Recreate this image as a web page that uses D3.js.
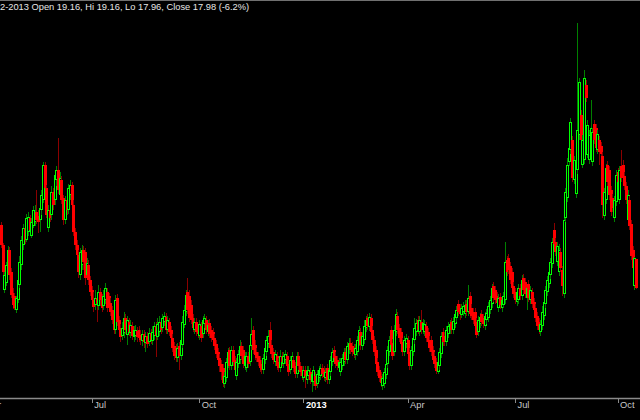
<!DOCTYPE html>
<html><head><meta charset="utf-8">
<script src="https://cdn.jsdelivr.net/npm/d3@7"></script>
<style>html,body{margin:0;padding:0;background:#000;overflow:hidden}</style>
</head><body><svg id="c" width="640" height="420"></svg>
<script>
const openP = [
20.50,19.70,17.90,18.18,18.62,19.50,18.62,17.78,17.66,17.10,
17.50,18.10,18.90,19.70,20.38,19.90,20.22,20.78,20.06,20.46,
20.62,21.02,20.86,20.70,21.10,21.50,22.90,21.98,20.38,21.10,
20.90,21.82,21.50,22.30,22.70,21.70,22.30,21.58,20.70,21.50,
21.10,21.70,22.10,21.30,20.22,19.70,19.30,18.50,18.90,19.50,
19.42,18.50,18.90,18.30,17.90,17.50,17.30,17.58,17.26,17.82,
17.58,17.26,17.50,17.82,17.66,17.38,17.10,16.70,16.30,17.58,
16.70,16.38,16.06,16.18,16.78,16.10,16.62,16.18,16.46,16.02,
16.06,16.26,16.30,16.10,15.86,16.14,15.78,16.06,15.82,16.18,
15.86,16.06,16.46,16.02,16.22,16.62,16.38,16.62,16.82,16.30,
16.62,16.30,15.98,15.66,15.58,15.18,15.66,15.26,15.70,16.50,
17.02,17.82,17.66,17.30,16.78,16.30,16.62,16.38,16.06,16.46,
16.14,16.54,16.70,16.22,16.58,16.30,16.22,15.98,15.74,15.42,
15.18,14.94,14.78,14.14,14.38,14.94,15.50,14.86,15.50,15.10,
14.46,14.94,15.10,15.66,15.50,14.86,14.78,15.26,15.02,15.66,
16.30,15.70,15.42,15.26,15.10,14.94,14.70,15.10,15.42,15.74,
16.30,15.70,15.42,15.02,15.26,15.02,14.78,15.26,14.94,15.10,
15.26,14.94,14.70,14.94,15.10,14.86,14.54,15.26,14.86,14.70,
14.38,14.70,14.30,14.46,14.62,14.22,14.22,14.46,14.14,14.38,
14.46,14.78,14.70,14.38,14.78,14.30,14.62,15.02,15.50,15.26,
15.10,14.78,14.62,14.86,15.02,15.42,15.10,15.50,15.78,15.66,
15.58,15.30,15.42,15.82,16.22,15.66,15.90,16.38,16.78,16.42,
16.78,16.30,15.90,15.50,15.02,14.70,14.46,14.06,14.14,14.50,
14.94,15.42,16.30,15.78,15.42,16.22,16.86,16.38,16.22,15.82,
15.42,15.74,15.90,15.42,14.86,15.42,15.90,16.22,16.70,16.22,
16.62,16.30,16.22,16.46,16.22,15.90,15.90,15.50,15.26,15.02,
14.62,14.86,15.34,16.22,16.06,15.82,16.14,16.30,16.62,16.30,
16.54,16.78,17.34,17.18,16.90,17.02,16.94,17.34,17.02,17.66,
17.18,17.02,17.02,16.62,16.22,16.54,16.94,16.78,16.46,16.70,
16.78,17.10,17.34,18.06,17.90,17.66,17.18,17.62,17.18,17.30,
17.50,19.10,19.18,18.86,18.62,18.06,17.82,17.42,17.50,17.98,
17.66,18.38,18.22,17.58,18.14,17.50,17.82,17.42,17.18,16.86,
16.62,16.22,16.46,16.86,17.34,17.82,18.14,18.50,18.94,20.30,
19.82,19.02,18.62,19.42,18.70,17.74,20.78,21.58,23.02,23.50,
23.90,22.30,21.74,22.70,24.10,24.90,22.90,23.10,26.10,23.30,
23.10,23.70,23.02,24.54,24.38,23.50,23.90,23.66,23.26,20.86,
21.50,22.90,22.70,21.90,21.58,20.78,21.42,22.62,21.50,22.86,
22.90,22.46,22.06,20.70,21.50,20.54,19.50,18.06,19.16];
const highP = [
20.62,19.78,18.62,19.02,19.66,19.62,18.78,17.98,17.78,17.66,
18.46,19.26,20.06,20.54,20.62,20.94,21.02,20.90,20.78,21.26,
21.30,21.90,21.10,21.50,21.90,23.02,23.02,22.10,21.30,21.50,
22.06,21.98,22.70,22.86,23.98,22.62,22.46,21.70,21.66,21.78,
22.14,22.30,22.22,21.50,20.38,19.90,19.50,19.58,19.70,19.66,
19.58,19.18,19.10,18.46,18.06,17.82,17.90,17.70,18.10,17.98,
17.74,17.90,18.18,17.98,17.78,17.58,17.26,16.86,17.70,17.74,
16.86,16.54,16.62,17.02,16.94,16.86,16.78,16.70,16.62,16.46,
16.50,16.42,16.46,16.30,16.30,16.30,16.22,16.22,16.38,16.34,
16.46,16.62,16.62,16.78,16.86,16.78,16.94,17.02,16.98,16.86,
16.78,16.46,16.14,15.82,15.74,15.78,15.82,16.10,16.86,17.30,
17.90,18.38,17.90,17.50,16.94,16.78,16.78,16.54,16.70,16.62,
16.86,16.94,16.86,16.70,16.74,16.46,16.38,16.14,15.90,15.58,
15.34,15.10,14.94,14.62,15.18,15.58,15.62,15.66,15.66,15.26,
15.18,15.50,15.90,15.82,15.66,15.42,15.42,15.42,15.90,16.78,
16.46,15.90,15.58,15.42,15.26,15.10,15.34,15.74,16.06,16.30,
16.62,15.90,15.58,15.50,15.42,15.18,15.50,15.42,15.42,15.50,
15.42,15.10,15.26,15.42,15.26,15.02,15.42,15.42,15.02,14.86,
14.86,14.86,14.86,14.86,14.78,14.70,14.86,14.62,14.70,14.86,
14.94,14.94,14.86,14.78,14.94,14.86,15.26,15.58,15.66,15.42,
15.26,15.18,15.18,15.34,15.58,15.58,15.82,15.98,15.98,15.82,
15.74,15.74,16.06,16.46,16.38,16.22,16.70,16.86,16.94,16.98,
16.94,16.46,16.06,15.66,15.18,14.86,14.62,14.54,14.78,15.10,
15.66,16.06,16.46,15.94,16.50,17.14,17.02,16.54,16.38,15.98,
16.06,16.14,16.06,15.58,15.66,16.14,16.78,16.74,16.86,16.86,
17.10,16.74,16.70,16.62,16.38,16.06,16.06,15.66,15.42,15.18,
15.18,15.58,16.22,16.38,16.22,16.46,16.62,16.70,16.78,16.82,
17.10,17.26,17.50,17.34,17.34,17.42,17.50,17.50,18.10,17.82,
17.34,17.18,17.18,16.78,16.86,16.98,17.10,16.94,17.02,17.14,
17.42,17.66,18.14,18.22,18.06,17.82,17.74,17.78,17.66,17.82,
19.82,19.26,19.34,19.02,18.78,18.22,17.98,17.98,18.14,18.14,
18.50,18.54,18.38,18.14,18.30,18.06,17.98,17.58,17.34,17.02,
16.78,16.70,17.26,17.58,18.06,18.46,18.78,19.18,19.98,20.58,
19.98,19.82,19.74,19.58,18.86,20.86,21.98,23.18,23.82,24.78,
24.06,23.26,22.94,28.58,26.38,25.10,24.10,26.70,26.30,24.70,
24.30,25.50,24.38,24.70,24.54,24.30,24.06,23.82,23.42,21.98,
22.94,23.06,22.86,22.06,21.74,21.66,22.70,22.78,22.86,23.50,
23.10,22.62,22.22,21.90,21.66,20.70,19.66,19.22,19.16];
const lowP = [
19.58,18.50,17.78,18.06,18.54,18.30,17.58,17.14,17.10,16.98,
17.38,17.98,18.70,19.50,19.74,19.82,20.06,20.10,19.98,20.38,
20.46,20.54,20.18,20.22,20.90,21.38,21.82,20.78,20.22,20.62,
20.70,21.10,21.30,22.06,21.74,21.50,21.34,20.50,20.54,20.90,
20.94,21.50,21.18,20.06,19.50,19.02,18.38,18.30,18.70,18.70,
18.10,18.30,18.10,17.66,17.34,17.02,17.10,16.62,17.10,17.26,
17.02,17.10,17.34,17.02,17.10,16.86,16.54,16.14,16.14,16.46,
16.14,15.82,15.90,15.98,16.14,15.70,16.06,15.98,15.90,15.82,
15.90,15.82,15.82,15.70,15.66,15.58,15.42,15.58,15.66,15.74,
15.70,15.90,15.22,15.90,16.06,16.14,16.22,16.46,16.14,16.14,
16.06,15.82,15.42,15.10,15.02,15.02,14.70,15.10,15.58,16.38,
16.86,16.94,16.62,16.54,16.22,16.14,16.06,15.98,15.90,15.82,
15.98,16.38,16.14,16.06,15.98,15.82,15.74,15.50,15.18,14.94,
14.62,14.30,14.02,13.98,14.22,14.78,14.70,14.70,14.86,14.54,
14.30,14.78,14.94,15.10,14.78,14.70,14.62,14.78,14.86,15.50,
15.34,15.10,15.02,14.86,14.62,14.54,14.54,14.94,15.26,15.58,
15.42,15.18,14.94,14.86,14.70,14.62,14.62,14.86,14.78,14.94,
14.70,14.46,14.54,14.78,14.62,14.38,14.38,14.70,14.46,14.30,
14.22,13.98,14.14,14.30,14.14,13.82,14.06,13.90,13.98,14.22,
14.30,14.38,14.26,14.22,14.14,14.14,14.46,14.86,15.02,14.78,
14.70,14.62,14.46,14.70,14.86,14.94,14.94,15.34,15.34,15.26,
15.18,15.10,15.26,15.66,15.50,15.50,15.74,16.22,16.30,16.26,
16.06,15.74,15.26,14.78,14.46,14.22,14.02,13.90,13.98,14.34,
14.78,15.26,15.50,15.10,15.26,16.06,16.14,15.82,15.58,15.26,
15.26,15.58,15.18,14.70,14.70,15.26,15.74,16.06,16.14,16.06,
16.14,16.14,16.06,15.82,15.66,15.42,15.26,14.94,14.78,14.54,
14.54,14.70,15.18,15.66,15.66,15.66,15.98,16.14,16.14,16.14,
16.38,16.62,16.86,16.70,16.78,16.86,16.78,16.86,16.86,16.78,
16.70,16.54,16.30,15.98,16.06,16.38,16.46,16.38,16.30,16.54,
16.62,16.94,17.18,17.42,17.34,17.22,17.02,17.14,17.02,17.18,
17.34,18.46,18.54,18.14,17.82,17.58,17.34,17.26,17.34,17.50,
17.50,17.74,17.58,17.10,17.42,17.34,17.18,16.94,16.62,16.30,
16.14,16.06,16.30,16.70,17.18,17.66,17.98,18.34,18.78,19.58,
19.26,18.86,18.46,18.62,17.66,17.58,20.62,21.42,22.86,23.34,
22.22,22.14,21.58,22.54,23.90,23.74,22.78,22.94,25.42,23.18,
22.94,23.50,22.86,23.74,23.42,23.34,22.90,23.10,20.78,20.70,
21.34,22.06,21.50,20.86,21.02,20.62,21.26,22.06,21.34,22.22,
22.22,21.90,21.34,20.54,20.30,19.10,18.62,17.90,17.96];
const closeP = [
19.70,18.62,18.50,18.90,19.50,18.50,17.70,17.30,17.18,17.58,
18.30,19.02,19.90,20.38,19.90,20.78,20.82,20.30,20.62,21.10,
21.02,20.70,20.62,21.18,21.70,22.90,21.98,20.90,21.10,20.78,
21.82,21.30,22.50,22.70,21.90,22.38,21.50,20.70,21.50,21.10,
21.98,22.10,21.30,20.22,19.70,19.30,18.62,19.42,19.50,19.02,
18.38,18.98,18.30,17.82,17.50,17.22,17.58,17.34,17.82,17.50,
17.18,17.66,17.98,17.18,17.30,17.02,16.70,16.30,17.50,16.62,
16.30,16.02,16.38,16.78,16.30,16.70,16.22,16.50,16.06,16.30,
16.30,16.02,15.98,15.90,16.14,15.82,16.06,15.74,16.18,15.90,
16.22,16.46,16.06,16.54,16.62,16.30,16.78,16.86,16.30,16.70,
16.22,15.98,15.58,15.26,15.18,15.58,15.26,15.90,16.62,17.10,
17.70,17.10,16.78,16.70,16.38,16.62,16.22,16.14,16.54,15.98,
16.70,16.78,16.30,16.50,16.14,15.98,15.90,15.66,15.34,15.10,
14.86,14.62,14.18,14.46,15.02,15.42,14.86,15.50,15.02,14.70,
15.02,15.34,15.66,15.26,14.94,15.26,15.26,14.94,15.70,16.14,
15.50,15.30,15.18,15.02,14.78,14.70,15.18,15.58,15.90,16.06,
15.58,15.34,15.10,15.34,14.86,14.78,15.26,15.02,15.26,15.34,
14.86,14.62,15.10,15.26,14.78,14.54,15.26,14.86,14.62,14.46,
14.70,14.46,14.66,14.70,14.30,14.54,14.70,14.06,14.54,14.70,
14.78,14.54,14.42,14.62,14.30,14.70,15.10,15.42,15.18,14.94,
14.86,15.02,15.02,15.18,15.42,15.10,15.66,15.78,15.50,15.42,
15.34,15.58,15.90,16.30,15.70,16.06,16.46,16.70,16.46,16.82,
16.22,15.90,15.42,14.94,14.62,14.38,14.18,14.38,14.62,14.94,
15.50,15.90,15.70,15.26,16.30,16.94,16.30,15.98,15.74,15.42,
15.90,15.98,15.34,14.86,15.50,15.98,16.38,16.58,16.30,16.70,
16.30,16.58,16.54,15.98,15.82,15.58,15.42,15.10,14.94,14.66,
15.02,15.42,16.06,15.82,15.82,16.30,16.46,16.54,16.30,16.66,
16.94,17.10,17.02,16.94,17.18,17.26,17.30,17.02,17.58,16.94,
16.86,16.70,16.46,16.10,16.70,16.82,16.62,16.54,16.86,16.98,
17.26,17.50,17.98,17.58,17.50,17.38,17.58,17.30,17.50,17.66,
19.02,18.62,18.70,18.30,17.98,17.74,17.50,17.82,17.98,17.66,
18.30,17.90,17.74,17.98,17.58,17.90,17.34,17.10,16.78,16.46,
16.30,16.54,17.02,17.42,17.90,18.30,18.62,19.02,19.82,19.74,
19.42,19.66,19.50,18.78,18.06,20.70,21.82,22.90,23.58,24.62,
22.38,23.10,22.78,24.30,26.22,23.90,23.90,26.38,25.58,24.50,
24.10,24.38,24.22,23.90,23.58,24.14,23.42,23.34,21.30,21.82,
22.78,22.22,21.70,21.02,21.18,21.50,22.50,22.22,22.70,22.38,
22.38,22.06,21.50,21.70,20.46,19.26,18.78,19.17,17.98];
const tickIndex = [-10, 54, 118, 180, 242, 306, 367];
const tickLabels = ["Apr", "Jul", "Oct", "2013", "Apr", "Jul", "Oct"];
const titleText = "2-2013 Open 19.16, Hi 19.16, Lo 17.96, Close 17.98 (-6.2%)";

const W = 640, H = 420;
const svg = d3.select("#c");
svg.append("rect").attr("width", W).attr("height", H).attr("fill", "#000");

const x = d3.scaleLinear().domain([0, closeP.length - 1]).range([1, 636]);
const y = d3.scaleLinear().domain([13.5, 29.5]).range([400, 0]);

const bars = closeP.map((c, i) => ({ i, o: openP[i], h: highP[i], l: lowP[i], c }));

const g = svg.append("g").attr("shape-rendering", "crispEdges");
bars.forEach(d => {
  const cx = Math.round(x(d.i));
  const up = d.c >= d.o;
  g.append("line")
    .attr("x1", cx + 0.5).attr("x2", cx + 0.5)
    .attr("y1", y(d.h)).attr("y2", y(d.l))
    .attr("stroke", up ? "#008000" : "#8b0000").attr("stroke-width", 1);
  const top = y(Math.max(d.o, d.c)), bot = y(Math.min(d.o, d.c));
  const hgt = Math.max(1, bot - top);
  if (up) {
    g.append("rect")
      .attr("x", cx - 0.5).attr("y", top)
      .attr("width", 2).attr("height", Math.max(1, hgt - 1))
      .attr("fill", "#000").attr("stroke", "#00ff00").attr("stroke-width", 1);
  } else {
    g.append("rect")
      .attr("x", cx - 1).attr("y", top)
      .attr("width", 3).attr("height", hgt)
      .attr("fill", "#ff0000");
  }
});

// axis baseline
svg.append("line").attr("x1", 0).attr("x2", W).attr("y1", 398.5).attr("y2", 398.5)
  .attr("stroke", "#8a8a8a").attr("stroke-width", 1.5);
// top border
svg.append("line").attr("x1", 0).attr("x2", W).attr("y1", 0.5).attr("y2", 0.5)
  .attr("stroke", "#707070").attr("stroke-width", 1);

const axis = d3.axisBottom(x).tickValues(tickIndex)
  .tickFormat((d, k) => tickLabels[k]).tickSize(4).tickSizeOuter(0);
const ax = svg.append("g").attr("transform", "translate(0,399)").call(axis);
ax.select(".domain").remove();
ax.selectAll(".tick line").attr("stroke", "#8a8a8a").attr("shape-rendering", "crispEdges");
ax.selectAll(".tick text")
  .attr("text-anchor", "start").attr("x", 2).attr("y", 8.5).attr("dy", null)
  .attr("fill", (d, k) => tickLabels[k] === "2013" ? "#ffffff" : "#c8c8c8")
  .attr("font-weight", (d, k) => tickLabels[k] === "2013" ? "bold" : "normal")
  .style("font-family", "'Liberation Sans', Arial, sans-serif")
  .style("font-size", "9.3px");

svg.append("text").attr("x", 0).attr("y", 10)
  .attr("fill", "#e6e6e6")
  .style("font-family", "'Liberation Sans', Arial, sans-serif")
  .style("font-size", "9.3px")
  .text(titleText);
</script>
</body></html>
